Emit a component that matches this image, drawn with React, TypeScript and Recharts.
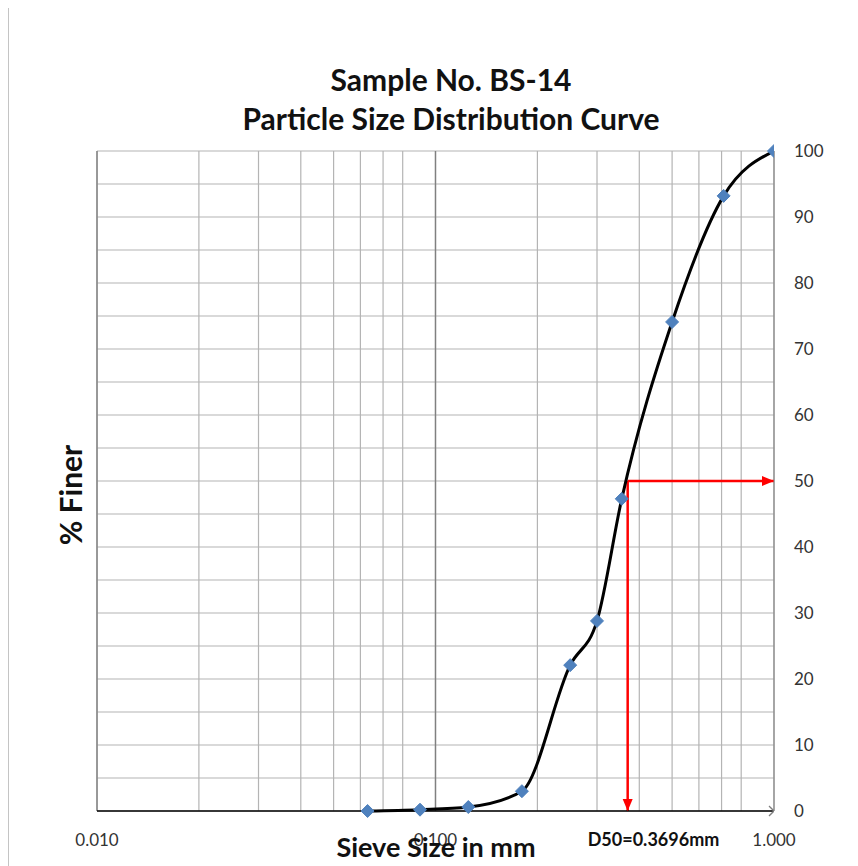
import { ComposedChart, Line, Scatter, XAxis, YAxis, CartesianGrid, ReferenceLine } from 'recharts';

// sieve sizes (mm) and % finer
const sieveSize = [0.063, 0.09, 0.125, 0.18, 0.25, 0.3, 0.355, 0.5, 0.71, 1.0];
const percentFiner = [0, 0.2, 0.6, 3.0, 22.1, 28.8, 47.3, 74.1, 93.2, 100];

// D50 marker
const d50 = 0.3696;
const d50Level = 50;
const xEnd = 1.0;

// grid / ticks
const xGridTicks = [0.01, 0.02, 0.03, 0.04, 0.05, 0.06, 0.07, 0.08, 0.09, 0.1, 0.2, 0.3, 0.4, 0.5, 0.6, 0.7, 0.8, 0.9, 1];
const xLabelTicks = [0.01, 0.1, 1];
const yGridTicks = [0, 5, 10, 15, 20, 25, 30, 35, 40, 45, 50, 55, 60, 65, 70, 75, 80, 85, 90, 95, 100];

const curveData = sieveSize.map((x, i) => ({ x, y: percentFiner[i] }));
const downArrow = [{ x: d50, y: d50Level }, { x: d50, y: 0 }];
const rightArrow = [{ x: d50, y: d50Level }, { x: xEnd, y: d50Level }];
const cornerMark = [{ x: xEnd, y: 0 }];

const font = 'Lato, "Open Sans", sans-serif';

const Diamond = (props: any) => {
  const { cx, cy, index } = props;
  if (cx == null || cy == null) return <g key={'d' + index} />;
  const r = 6.5;
  return (
    <polygon
      key={'d' + index}
      points={`${cx},${cy - r} ${cx + r},${cy} ${cx},${cy + r} ${cx - r},${cy}`}
      fill="#4F81BD"
      stroke="#4F81BD"
    />
  );
};

const arrowHead = (dir: 'down' | 'right') => (props: any) => {
  const { cx, cy, index } = props;
  if (index !== 1 || cx == null) return <g key={dir + index} />;
  const l = 12, w = 5;
  const pts = dir === 'down'
    ? `${cx},${cy} ${cx - w},${cy - l} ${cx + w},${cy - l}`
    : `${cx},${cy} ${cx - l},${cy - w} ${cx - l},${cy + w}`;
  return <polygon key={dir + index} points={pts} fill="#ff0000" />;
};

const CrossMark = (props: any) => {
  const { cx, cy } = props;
  const s = 5;
  return (
    <g stroke="#7f7f7f" strokeWidth={1.3}>
      <line x1={cx - s} y1={cy - s} x2={cx + s} y2={cy + s} />
      <line x1={cx - s} y1={cy + s} x2={cx + s} y2={cy - s} />
    </g>
  );
};

export default function App() {
  return (
    <div style={{ position: 'relative', width: 860, height: 870, border: '1px solid #c4c4c4', borderRight: 'none', background: '#fff', fontFamily: font, overflow: 'hidden', marginTop: -1 }}>
      <div style={{ position: 'absolute', left: 0, width: 884, top: 52, textAlign: 'center', fontWeight: 700, fontSize: 30, lineHeight: '38.5px', color: '#111' }}>
        Sample No. BS-14<br />Particle Size Distribution Curve
      </div>

      <ComposedChart
        width={848}
        height={858}
        margin={{ top: 143, right: 23, left: 88, bottom: 25 }}
        style={{ position: 'absolute', left: 0, top: 0 }}
      >
        <CartesianGrid stroke="#b4b4b4" strokeWidth={1.2} />
        <XAxis
          dataKey="x"
          type="number"
          scale="log"
          domain={[0.01, 1]}
          ticks={xGridTicks}
          allowDataOverflow
          tickFormatter={(v: number) => (xLabelTicks.some((t) => Math.abs(t - v) < 1e-9) ? v.toFixed(3) : '')}
          axisLine={{ stroke: '#000', strokeWidth: 1.6 }}
          tickLine={false}
          tickMargin={17}
          height={30}
          tick={{ fill: '#333', fontSize: 17, fontFamily: font }}
        />
        <YAxis
          type="number"
          orientation="right"
          domain={[0, 100]}
          ticks={yGridTicks}
          tickFormatter={(v: number) => (v % 10 === 0 ? String(v) : '')}
          axisLine={{ stroke: '#888', strokeWidth: 1.2 }}
          tickLine={false}
          tickMargin={14}
          width={60}
          tick={{ fill: '#333', fontSize: 17, fontFamily: font, textAnchor: 'start' }}
        />
        <ReferenceLine x={0.1} stroke="#808080" strokeWidth={1.4} />
        <ReferenceLine x={0.01} stroke="#808080" strokeWidth={1.4} />
        <Line
          data={downArrow}
          dataKey="y"
          stroke="#ff0000"
          strokeWidth={2.5}
          dot={arrowHead('down')}
          activeDot={false}
          isAnimationActive={false}
        />
        <Line
          data={rightArrow}
          dataKey="y"
          stroke="#ff0000"
          strokeWidth={2.5}
          dot={arrowHead('right')}
          activeDot={false}
          isAnimationActive={false}
        />
        <Line
          data={curveData}
          dataKey="y"
          type="monotone"
          stroke="#000"
          strokeWidth={3}
          dot={Diamond}
          activeDot={false}
          isAnimationActive={false}
        />
        <Scatter data={cornerMark} dataKey="y" shape={CrossMark} isAnimationActive={false} />
      </ComposedChart>

      <div style={{ position: 'absolute', left: -19, top: 467, width: 160, height: 40, lineHeight: '40px', textAlign: 'center', transform: 'rotate(-90deg)', fontWeight: 700, fontSize: 30, color: '#111' }}>
        % Finer
      </div>
      <div style={{ position: 'absolute', left: 317, width: 220, top: 823, lineHeight: '32px', textAlign: 'center', fontWeight: 700, fontSize: 27, color: '#111', whiteSpace: 'nowrap' }}>
        Sieve Size in mm
      </div>
      <div style={{ position: 'absolute', left: 551, width: 187, top: 820, lineHeight: '22px', textAlign: 'center', fontWeight: 700, fontSize: 18, color: '#111' }}>
        D50=0.3696mm
      </div>
    </div>
  );
}
